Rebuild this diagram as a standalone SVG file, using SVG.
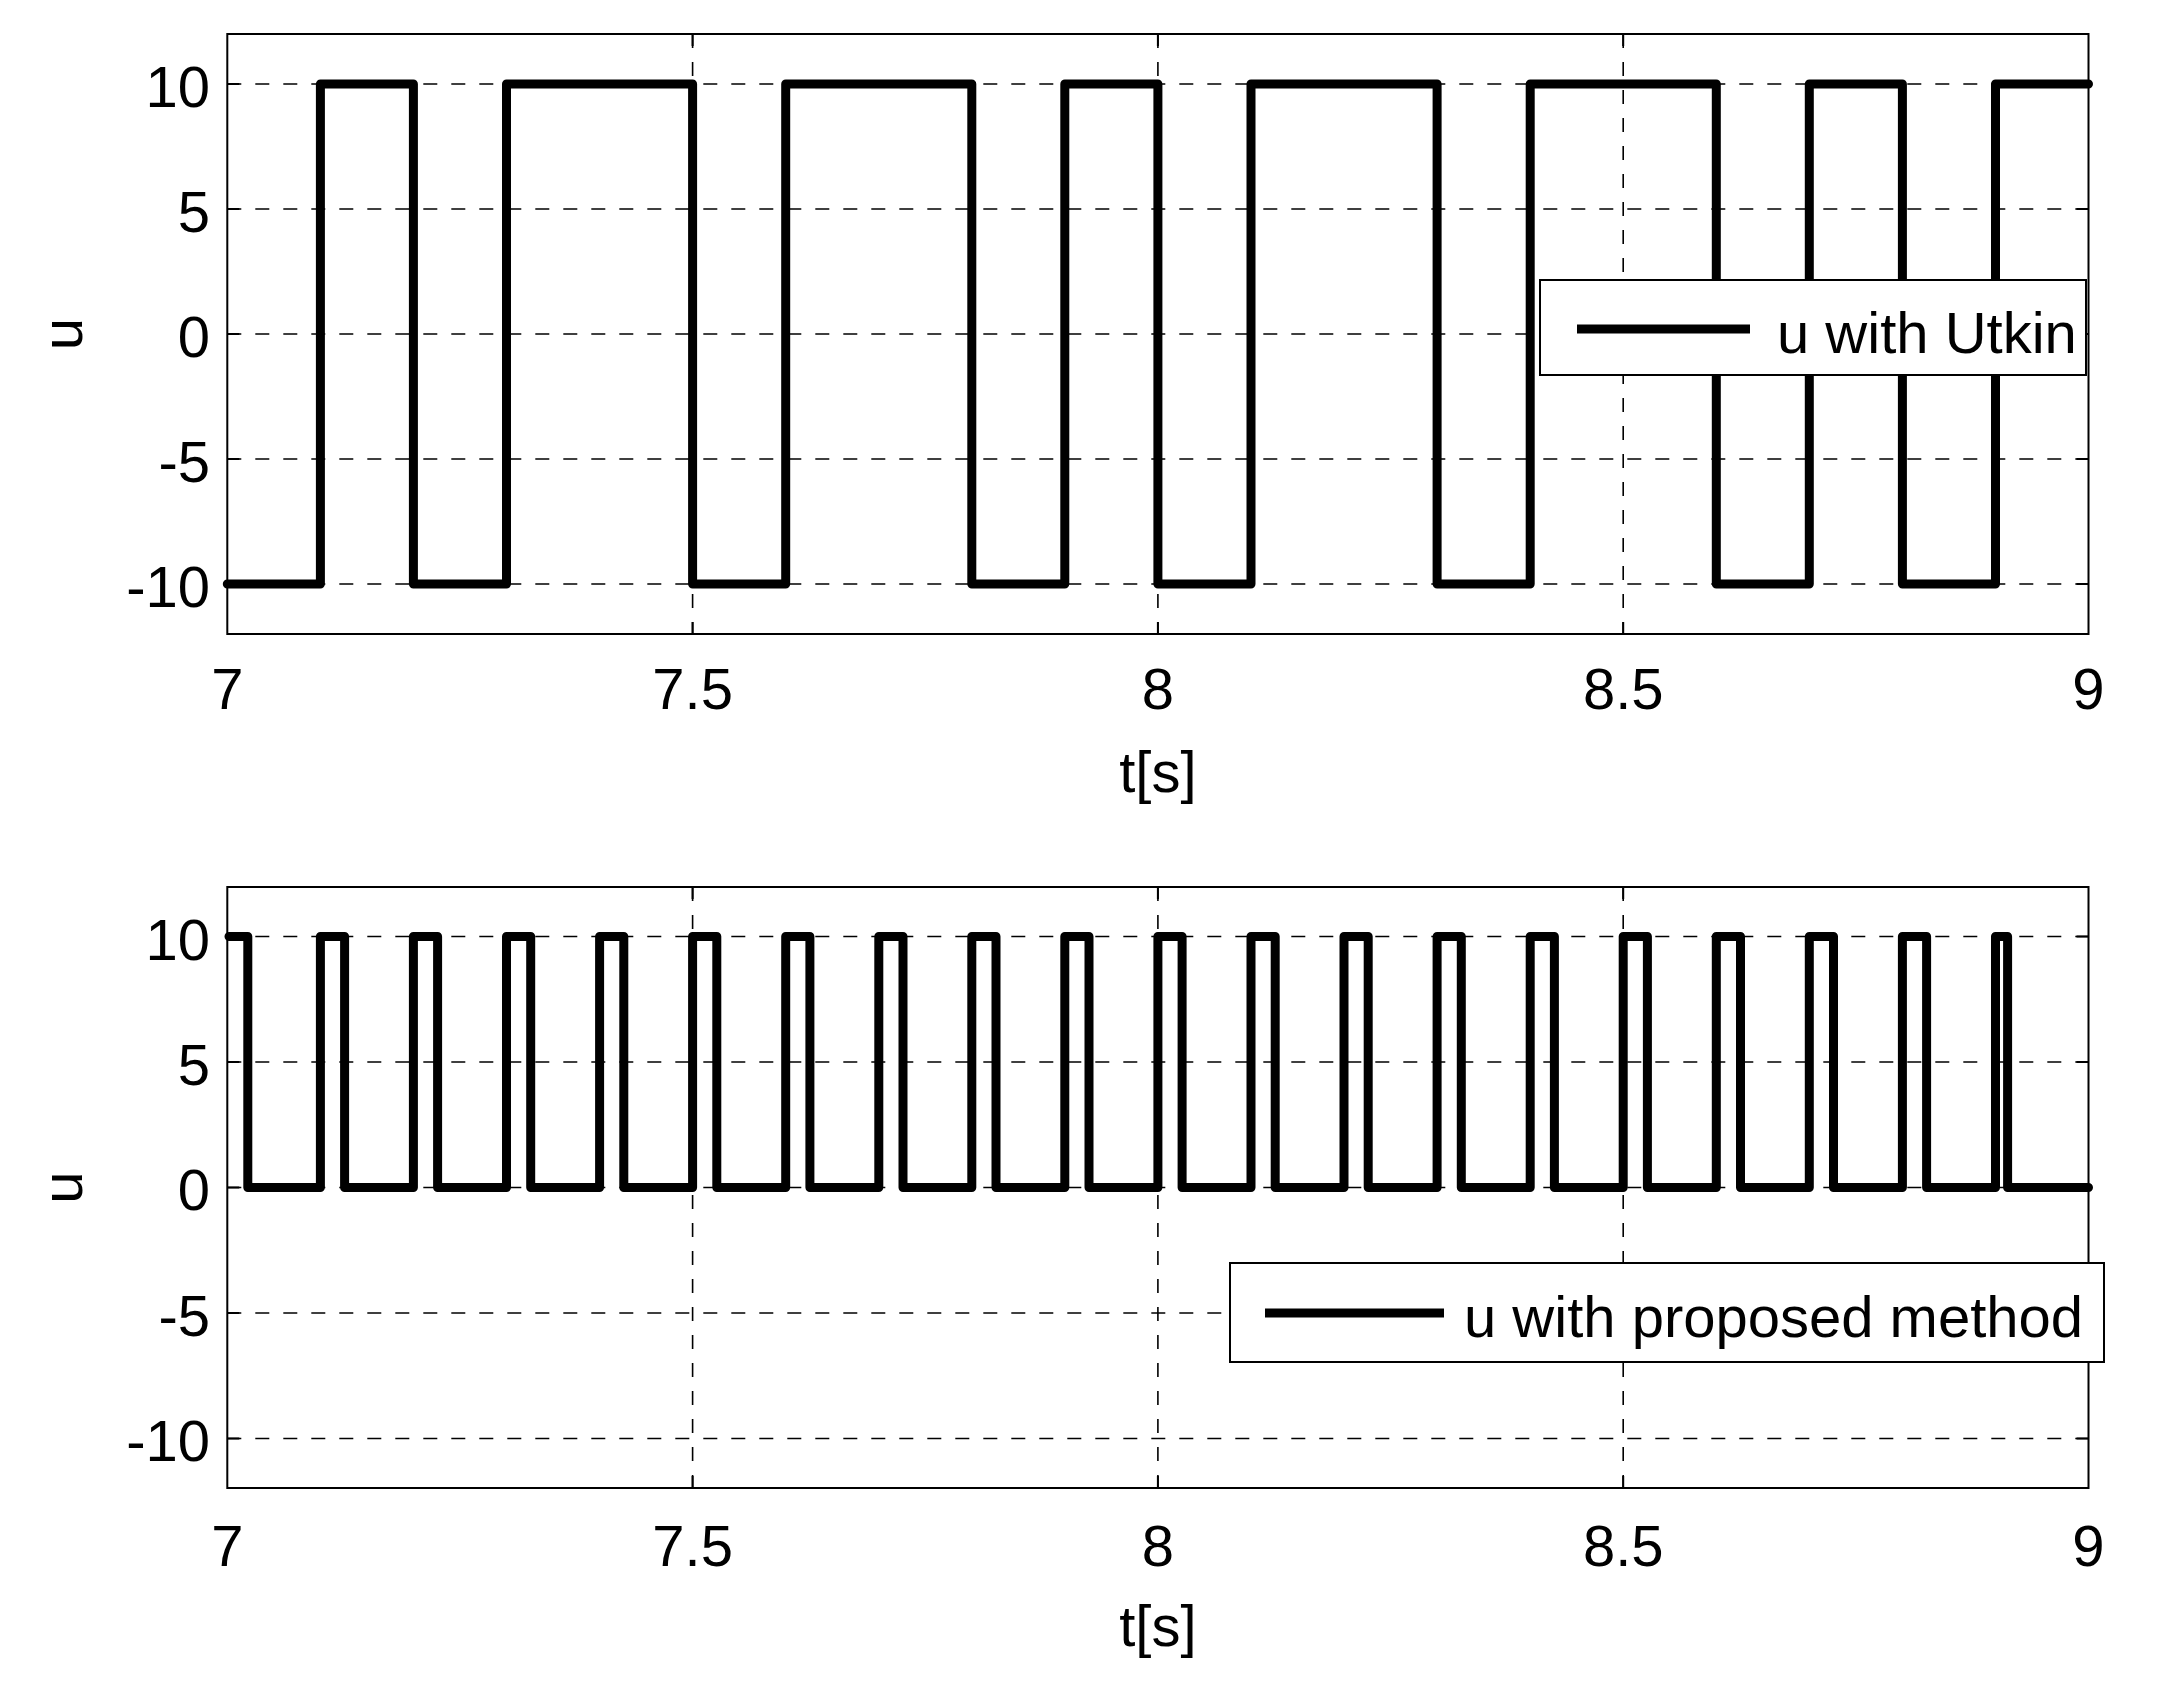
<svg xmlns="http://www.w3.org/2000/svg" width="2160" height="1689" viewBox="0 0 2160 1689">
<style>
.ax{fill:none;stroke:#000;stroke-width:2}
.grid{fill:none;stroke:#000;stroke-width:1.6;stroke-dasharray:14 14}
.sig{fill:none;stroke:#000;stroke-width:9;stroke-linejoin:round;stroke-linecap:round}
text{font-family:"Liberation Sans",Arial,sans-serif;font-size:58px;fill:#000}
.r{text-anchor:end}.m{text-anchor:middle}
</style>
<rect width="2160" height="1689" fill="#fff"/>
<g id="top-plot">
<g class="grid">
<path d="M692.6 34V634M1157.9 34V634M1623.2 34V634"/>
<path d="M227.3 84H2088.5M227.3 209H2088.5M227.3 334H2088.5M227.3 459H2088.5M227.3 584H2088.5"/>
</g>
<rect class="ax" x="227.3" y="34" width="1861.2" height="600"/>
<path class="ax" d="M692.6 34v12M1157.9 34v12M1623.2 34v12M692.6 634v-12M1157.9 634v-12M1623.2 634v-12M227.3 84h12M227.3 209h12M227.3 334h12M227.3 459h12M227.3 584h12M2088.5 84h-12M2088.5 209h-12M2088.5 334h-12M2088.5 459h-12M2088.5 584h-12"/>
<path class="sig" d="M227.3 584H320.4V84H413.4V584H506.5V84H692.6V584H785.7V84H971.8V584H1064.8V84H1157.9V584H1251V84H1437.1V584H1530.2V84H1716.3V584H1809.3V84H1902.4V584H1995.5V84H2088.5"/>
<text class="r" x="210" y="107">10</text>
<text class="r" x="210" y="232">5</text>
<text class="r" x="210" y="357">0</text>
<text class="r" x="210" y="482">-5</text>
<text class="r" x="210" y="607">-10</text>
<text class="m" x="227.3" y="709">7</text>
<text class="m" x="692.6" y="709">7.5</text>
<text class="m" x="1157.9" y="709">8</text>
<text class="m" x="1623.2" y="709">8.5</text>
<text class="m" x="2088.5" y="709">9</text>
<text class="m" x="1157.9" y="792">t[s]</text>
<text class="m" transform="translate(82 334) rotate(-90)">u</text>
</g>
<g id="top-legend">
<rect x="1540" y="280" width="546" height="95" fill="#fff" stroke="#000" stroke-width="2"/>
<path d="M1577 329H1750" stroke="#000" stroke-width="9"/>
<text x="1777" y="353">u with Utkin</text>
</g>
<g id="bottom-plot">
<g class="grid">
<path d="M692.6 887V1488M1157.9 887V1488M1623.2 887V1488"/>
<path d="M227.3 936.5H2088.5M227.3 1062H2088.5M227.3 1187.5H2088.5M227.3 1313H2088.5M227.3 1438.5H2088.5"/>
</g>
<rect class="ax" x="227.3" y="887" width="1861.2" height="601"/>
<path class="ax" d="M692.6 887v12M1157.9 887v12M1623.2 887v12M692.6 1488v-12M1157.9 1488v-12M1623.2 1488v-12M227.3 936.5h12M227.3 1062h12M227.3 1187.5h12M227.3 1313h12M227.3 1438.5h12M2088.5 936.5h-12M2088.5 1062h-12M2088.5 1187.5h-12M2088.5 1313h-12M2088.5 1438.5h-12"/>
<path class="sig" d="M229 936.5H247.8V1187.5H320.4V936.5H344.6V1187.5H413.4V936.5H437.6V1187.5H506.5V936.5H530.7V1187.5H599.6V936.5H623.8V1187.5H692.6V936.5H716.8V1187.5H785.7V936.5H809.9V1187.5H878.8V936.5H903V1187.5H971.8V936.5H996V1187.5H1064.8V936.5H1089V1187.5H1157.9V936.5H1182.1V1187.5H1251V936.5H1275.2V1187.5H1344V936.5H1368.2V1187.5H1437.1V936.5H1461.3V1187.5H1530.2V936.5H1554.4V1187.5H1623.2V936.5H1647.4V1187.5H1716.3V936.5H1740.5V1187.5H1809.3V936.5H1833.5V1187.5H1902.4V936.5H1926.6V1187.5H1995.5V936.5H2007.6V1187.5H2088.5"/>
<text class="r" x="210" y="960">10</text>
<text class="r" x="210" y="1085">5</text>
<text class="r" x="210" y="1210">0</text>
<text class="r" x="210" y="1336">-5</text>
<text class="r" x="210" y="1461">-10</text>
<text class="m" x="227.3" y="1566">7</text>
<text class="m" x="692.6" y="1566">7.5</text>
<text class="m" x="1157.9" y="1566">8</text>
<text class="m" x="1623.2" y="1566">8.5</text>
<text class="m" x="2088.5" y="1566">9</text>
<text class="m" x="1157.9" y="1646">t[s]</text>
<text class="m" transform="translate(82 1187.5) rotate(-90)">u</text>
</g>
<g id="bottom-legend">
<rect x="1230" y="1263" width="874" height="99" fill="#fff" stroke="#000" stroke-width="2"/>
<path d="M1265 1313H1444" stroke="#000" stroke-width="9"/>
<text x="1464" y="1337">u with proposed method</text>
</g>
</svg>
